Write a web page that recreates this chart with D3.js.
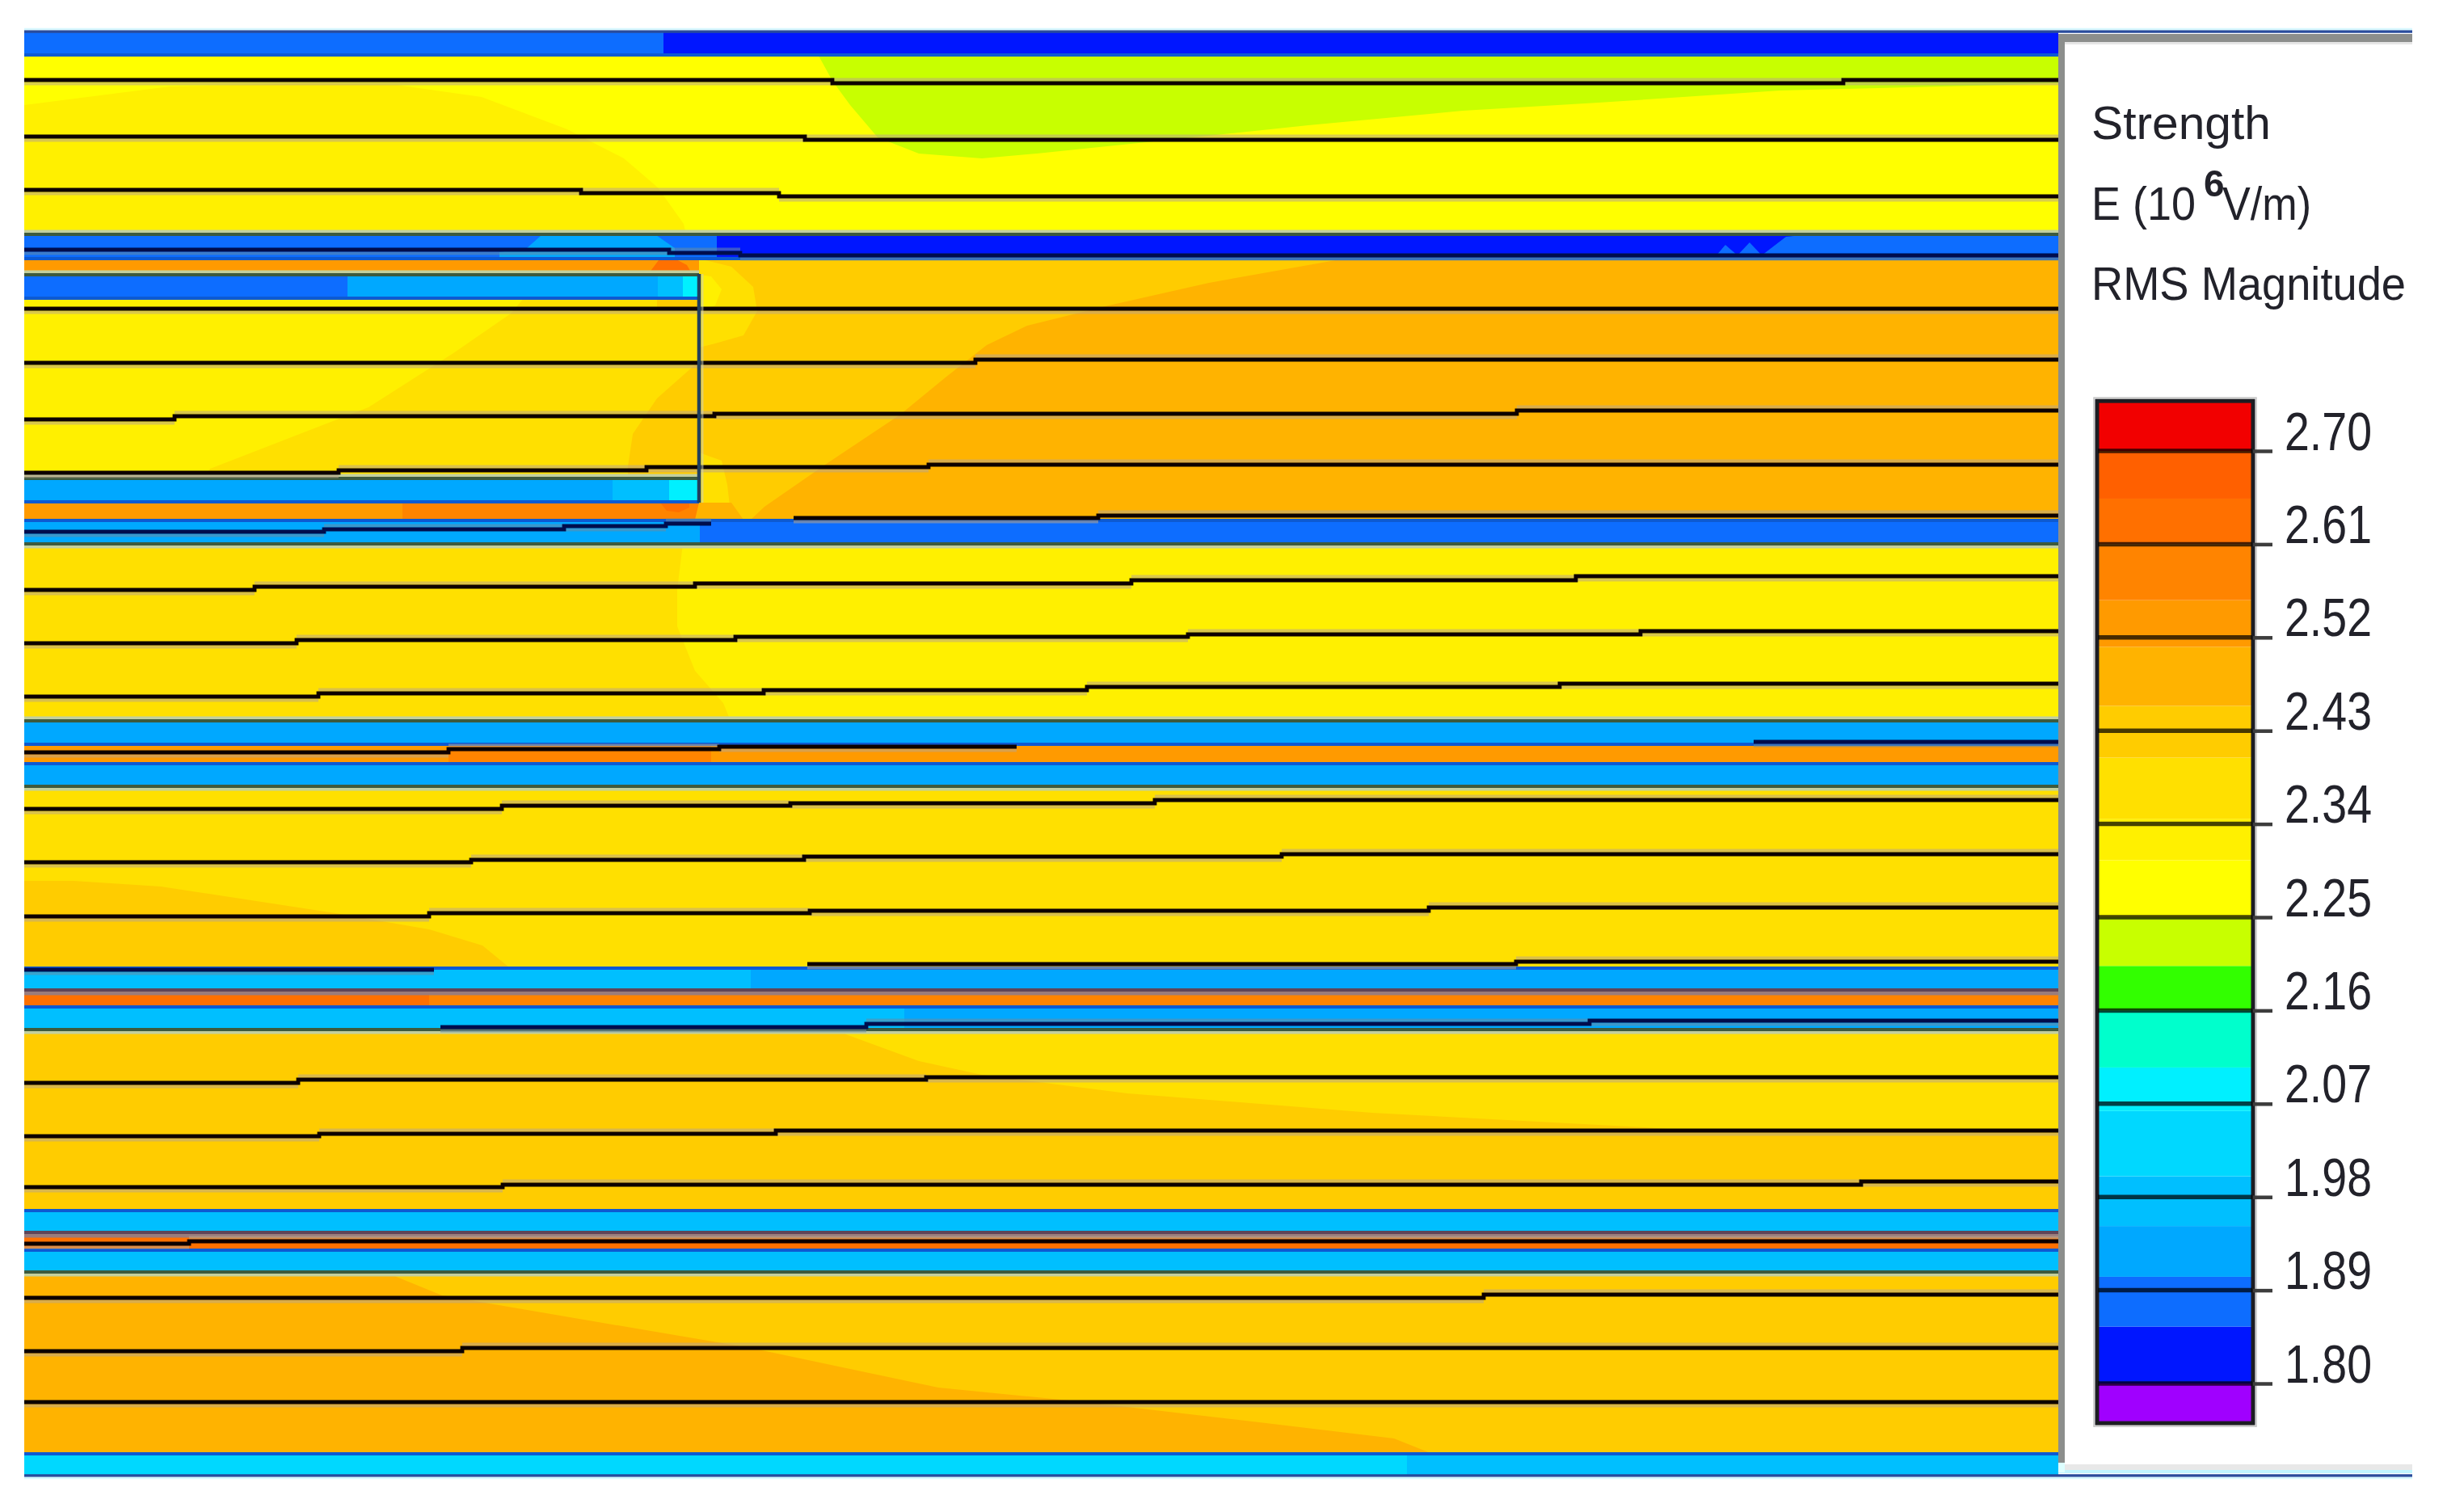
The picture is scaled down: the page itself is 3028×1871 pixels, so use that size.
<!DOCTYPE html>
<html><head><meta charset="utf-8">
<style>
html,body{margin:0;padding:0;background:#fff}
svg{display:block}
text{font-family:"Liberation Sans",Arial,sans-serif;fill:#22232c}
</style>
<script src="https://cdn.jsdelivr.net/npm/d3@7/dist/d3.min.js"></script>
</head><body>
<svg id="c" width="3028" height="1871" viewBox="0 0 3028 1871"></svg>
<script>
// ---------- DATA (cross-section model units; E in 10^6 V/m) ----------
const legendTitle = ["Strength", "E (10", "6", "V/m)", "RMS Magnitude"];
const legendTicks = [2.70, 2.61, 2.52, 2.43, 2.34, 2.25, 2.16, 2.07, 1.98, 1.89, 1.80];
const fieldStops  = [1.80, 1.855, 1.903, 1.952, 2.00, 2.063, 2.105, 2.16, 2.203, 2.25, 2.305, 2.345, 2.404, 2.454, 2.511, 2.556, 2.61, 2.654, 2.70];
const fieldColors = ["#a000ff", "#0018ff", "#0a6dff", "#00a8ff", "#00bfff", "#00d8ff", "#00f0ff", "#00ffcc", "#33ff00", "#c8ff00", "#ffff00", "#fff000", "#ffe000", "#ffcc00", "#ffb300", "#ff9a00", "#ff8400", "#ff7000", "#ff6000", "#f20000"];
const legendExtent = [1.7625, 2.749];

// x0, x1, y0, y1, E
const fieldBands = [
  [30, 2547, 39, 69, 1.88], [821, 2547, 39, 69, 1.82],
  [30, 2547, 69, 290, 2.28],
  [30, 2547, 290, 320, 1.88], [887, 2547, 290, 320, 1.82],
  [865, 2547, 320, 643, 2.48],
  [30, 865, 320, 342, 2.53],
  [30, 865, 342, 368, 1.88], [430, 865, 342, 368, 1.93], [814, 865, 342, 368, 1.98], [845, 865, 342, 368, 2.08],
  [30, 865, 368, 594, 2.32],
  [30, 865, 594, 622, 1.93], [758, 865, 594, 622, 1.98], [828, 865, 594, 622, 2.08],
  [30, 865, 622, 643, 2.53], [498, 865, 622, 643, 2.58],
  [30, 2547, 643, 673, 1.88], [30, 866, 643, 673, 1.93],
  [30, 2547, 673, 893, 2.32],
  [30, 2547, 893, 922, 1.93],
  [30, 2547, 922, 945, 2.53], [555, 880, 922, 945, 2.58],
  [30, 2547, 945, 973, 1.93],
  [30, 2547, 973, 1197, 2.37],
  [30, 2547, 1197, 1225, 1.93], [30, 929, 1197, 1225, 1.98],
  [30, 2547, 1225, 1245, 2.58], [30, 531, 1225, 1245, 2.62],
  [30, 2547, 1245, 1274, 1.93], [30, 1119, 1245, 1274, 1.98],
  [30, 2547, 1274, 1497, 2.43],
  [30, 2547, 1497, 1525, 1.98],
  [30, 2547, 1525, 1547, 2.62],
  [30, 2547, 1547, 1574, 1.98],
  [30, 2547, 1574, 1798, 2.43],
  [30, 2547, 1798, 1826, 1.98], [30, 1741, 1798, 1826, 2.03]
];

// contour regions: E value, outline points
const contourE = [2.32, 2.22, 1.93, 1.88, 2.43, 2.37, 2.32, 2.37, 2.37, 2.43, 2.43, 2.62, 2.62, 2.48, 2.37, 2.43, 2.37, 2.48];
const contourOutlines = [
  [[30,130],[210,107],[386,103],[491,105],[596,120],[702,160],[772,196],[814,232],[846,277],[849,290],[30,290]],
  [[1013,69],[1030,100],[1052,130],[1086,170],[1137,190],[1215,196],[1283,190],[1428,175],[1619,155],[1810,137],[1978,127],[2203,112],[2483,105],[2547,103],[2547,69]],
  [[670,291],[812,291],[835,307],[835,320],[618,320],[618,312],[652,307]],
  [[2124,316],[2135,303],[2150,316],[2165,300],[2180,316],[2210,293],[2240,290],[2547,290],[2547,316]],
  [[865,320],[1664,320],[1496,350],[1372,378],[1271,403],[1221,427],[1170,467],[1114,513],[1024,573],[946,627],[929,643],[865,643]],
  [[865,320],[905,330],[932,355],[937,385],[920,415],[885,425],[865,430]],
  [[865,340],[880,342],[893,358],[885,378],[865,385]],
  [[865,560],[893,570],[900,600],[905,643],[865,643]],
  [[649,368],[632,388],[561,437],[456,504],[260,580],[250,594],[865,594],[865,368]],
  [[865,447],[813,493],[783,537],[777,577],[777,594],[865,594]],
  [[813,368],[865,368],[865,382],[813,382]],
  [[800,342],[815,322],[835,320],[850,328],[858,342]],
  [[817,622],[853,622],[853,628],[840,634],[825,632]],
  [[865,622],[860,643],[920,643],[905,622]],
  [[30,673],[845,673],[838,730],[838,775],[860,830],[895,870],[904,892],[30,892]],
  [[30,1090],[91,1090],[199,1097],[415,1130],[531,1150],[597,1170],[630,1197],[30,1197]],
  [[1036,1276],[1137,1313],[1215,1330],[1395,1353],[1698,1377],[2035,1395],[2120,1401],[2547,1401],[2547,1276]],
  [[30,1576],[481,1576],[547,1603],[746,1637],[929,1668],[1161,1717],[1343,1735],[1575,1762],[1725,1780],[1770,1798],[30,1798]]
];

// conductor / strand lines, stepped: [x, y] at start of each step, final point closes it
const layerLines = [
  [[30,99],[1030,103],[2281,99],[2547,99]],
  [[30,169],[996,173],[2547,173]],
  [[30,235],[719,239],[964,243],[2547,243]],
  [[30,382],[2547,382]],
  [[30,449],[1207,445],[2547,445]],
  [[30,519],[216,515],[884,512],[1877,508],[2547,508]],
  [[30,585],[419,582],[800,578],[1149,575],[2547,575]],
  [[982,641],[1359,638],[2547,638]],
  [[30,730],[315,726],[860,722],[1400,718],[1950,713],[2547,713]],
  [[30,796],[367,792],[910,788],[1470,785],[2030,781],[2547,781]],
  [[30,862],[394,858],[945,854],[1345,850],[1930,846],[2547,846]],
  [[30,931],[555,927],[890,924],[1258,924]],
  [[30,1001],[621,997],[978,994],[1429,990],[2547,990]],
  [[30,1067],[583,1064],[995,1060],[1586,1057],[2547,1057]],
  [[30,1134],[531,1130],[1002,1127],[1768,1123],[2547,1123]],
  [[999,1193],[1876,1190],[2547,1190]],
  [[30,1340],[369,1336],[1146,1333],[2547,1333]],
  [[30,1406],[395,1403],[960,1399],[2547,1399]],
  [[30,1469],[622,1466],[2303,1462],[2547,1462]],
  [[30,1539],[234,1536],[2547,1536]],
  [[30,1606],[1836,1602],[2547,1602]],
  [[30,1672],[572,1668],[2547,1668]],
  [[30,1735],[2547,1735]]
];
const bandLines = [
  [[30,309],[828,313],[916,316],[2547,316]],
  [[30,658],[401,655],[698,651],[824,648],[880,648]],
  [[2170,918],[2547,918]],
  [[30,1200],[537,1200]],
  [[545,1271],[1072,1267],[1967,1263],[2547,1263]]
];
// interface lines: y, x0, x1
const blueEdges  = [[68,30,2547],[320,30,2547],[369,30,865],[621,30,865],[644,30,2547],[921,30,2547],[945,30,2547],[1198,30,2547],[1246,30,2547],[1498,30,2547],[1547,30,2547],[1799,30,2547]];
const greenEdges = [[290,30,2547,-1],[592,30,865,-1],[340,30,865,-1],[673,30,2547,1],[892,30,2547,-1],[973,30,2547,1],[1274,30,2547,1],[1574,30,2547,1]];
const mauveEdges = [[1225,30,2547],[1525,30,2547]];
const outerEdges = [[39,30,2985],[1826,30,2985]];

// ---------- LAYOUT ----------
const root = d3.select("#c");
const defs = root.append("defs");
defs.append("filter").attr("id","soft").attr("filterUnits","userSpaceOnUse")
  .attr("x",0).attr("y",0).attr("width",3028).attr("height",1871)
  .append("feGaussianBlur").attr("stdDeviation",0.6);
const svg = root.append("g").attr("filter","url(#soft)");

const plot = {left:30, right:2547, top:39, bottom:1828};
const x = d3.scaleLinear().domain([30,2547]).range([plot.left, plot.right]);
const y = d3.scaleLinear().domain([39,1828]).range([plot.top, plot.bottom]);
const colorOf = d3.scaleThreshold().domain(fieldStops).range(fieldColors);
const lineGen = d3.line().x(d=>x(d[0])).y(d=>y(d[1]));
const stepGen = d3.line().x(d=>x(d[0])).y(d=>y(d[1])).curve(d3.curveStepAfter);

// field bands
svg.append("g").selectAll("rect").data(fieldBands).join("rect")
  .attr("x",d=>x(d[0])).attr("width",d=>x(d[1])-x(d[0]))
  .attr("y",d=>y(d[2])).attr("height",d=>y(d[3])-y(d[2]))
  .attr("fill",d=>colorOf(d[4]));

// contours
svg.append("g").selectAll("path").data(contourOutlines).join("path")
  .attr("d",d=>lineGen(d)+"Z").attr("fill",(d,i)=>colorOf(contourE[i]));

// interfaces
function edges(data, color, w, off){
  svg.append("g").selectAll("line").data(data).join("line")
    .attr("x1",d=>x(d[1])).attr("x2",d=>x(d[2]))
    .attr("y1",d=>y(d[0])+(off?off*(d[3]||1):0)).attr("y2",d=>y(d[0])+(off?off*(d[3]||1):0))
    .attr("stroke",color).attr("stroke-width",w);
}
edges(blueEdges,"#0a5ad2",4);
edges(greenEdges,"#c2cf9e",4,3.5);
edges(greenEdges,"#3e5a3c",4);
edges(mauveEdges,"#9a7c7c",5,4);
edges(mauveEdges,"#5e4458",4);
edges(outerEdges,"#2a4c9c",3.5);
edges(outerEdges.map(d=>[d[0]+(d[0]<100?-3:3),d[1],d[2]]),"#d8f8ff",2.5);

// strand lines with the pale ringing next to each step
function strands(data, lineColor, haloColor){
  const g = svg.append("g");
  data.forEach(pts=>{
    d3.pairs(pts).forEach((p,i)=>{
      const off = i%2 ? -4.5 : 4.5;
      g.append("line").attr("x1",x(p[0][0])).attr("x2",x(p[1][0]))
        .attr("y1",y(p[0][1])+off).attr("y2",y(p[0][1])+off)
        .attr("stroke",haloColor).attr("stroke-width",4).attr("stroke-opacity",.55);
    });
  });
  g.selectAll("path").data(data).join("path")
    .attr("d",stepGen).attr("fill","none").attr("stroke",lineColor).attr("stroke-width",4.8);
}
strands(layerLines,"#080200","#b9a58a");
strands(bandLines,"#00104e","#6a8aa0");

// box right edge
const boxEdge = [[865,339],[865,622]];
svg.append("path").datum(boxEdge.map(d=>[d[0]+4,d[1]])).attr("d",lineGen).attr("stroke","#cdd3bd").attr("stroke-opacity",.55).attr("stroke-width",3).attr("fill","none");
svg.append("path").datum(boxEdge).attr("d",lineGen).attr("stroke","#243f5c").attr("stroke-width",4.5).attr("fill","none");

// ---------- LEGEND PANEL ----------
svg.append("rect").attr("x",2547).attr("y",42).attr("width",438).attr("height",10).attr("fill","#8c8e8c");
svg.append("rect").attr("x",2547).attr("y",42).attr("width",8).attr("height",1768).attr("fill","#8c8e8c");
svg.append("rect").attr("x",2555).attr("y",52).attr("width",430).attr("height",3).attr("fill","#e6e6e6");
svg.append("rect").attr("x",2555).attr("y",1812).attr("width",430).attr("height",7).attr("fill","#e8e8e8");
svg.append("rect").attr("x",2547).attr("y",1819).attr("width",438).attr("height",4).attr("fill","#bff4ff");
svg.append("rect").attr("x",2547).attr("y",1810).attr("width",8).attr("height",12).attr("fill","#dff");

const v = d3.scaleLinear().domain([1.80,2.70]).range([1712,558]);
const legendEdges = [legendExtent[0], ...fieldStops, legendExtent[1]];
const legendX0 = 2596, legendX1 = 2787;
svg.append("g").selectAll("rect").data(d3.pairs(legendEdges)).join("rect")
  .attr("x",legendX0).attr("width",legendX1-legendX0)
  .attr("y",d=>v(d[1])).attr("height",d=>v(d[0])-v(d[1]))
  .attr("fill",d=>colorOf((d[0]+d[1])/2));

svg.append("rect").attr("x",legendX0-1).attr("y",v(legendExtent[1])+1).attr("width",legendX1-legendX0+2).attr("height",v(legendExtent[0])-v(legendExtent[1]))
  .attr("fill","none").attr("stroke","#1c1c22").attr("stroke-width",5);
svg.append("rect").attr("x",legendX0-5).attr("y",v(legendExtent[1])-3).attr("width",legendX1-legendX0+10).attr("height",v(legendExtent[0])-v(legendExtent[1])+8)
  .attr("fill","none").attr("stroke","#888").attr("stroke-opacity",.5).attr("stroke-width",1.5);

// bar cross-lines and ticks
svg.append("g").selectAll("line").data(legendTicks).join("line")
  .attr("x1",legendX0).attr("x2",legendX1).attr("y1",d=>v(d)).attr("y2",d=>v(d))
  .attr("stroke","#000").attr("stroke-opacity",.72).attr("stroke-width",5.5);

const axis = d3.axisRight(v).tickValues(legendTicks).tickFormat(d3.format(".2f")).tickSize(24).tickPadding(15);
const axisG = svg.append("g").attr("transform",`translate(${legendX1+1},0)`).call(axis);
axisG.select(".domain").remove();
axisG.selectAll(".tick line").attr("stroke","#3c3c3c").attr("stroke-width",4.5);
axisG.selectAll(".tick text")
  .attr("dy",null).attr("y",-2).attr("dominant-baseline","auto")
  .attr("font-size",66).attr("font-family","Liberation Sans")
  .attr("textLength",108).attr("lengthAdjust","spacingAndGlyphs")
  .attr("fill","#2a2a2e");

// title lines
const tx = 2588;
svg.append("text").attr("x",tx).attr("y",172).attr("font-size",58).attr("textLength",222).attr("lengthAdjust","spacingAndGlyphs").text(legendTitle[0]);
svg.append("text").attr("x",tx).attr("y",272).attr("font-size",58).attr("textLength",129).attr("lengthAdjust","spacingAndGlyphs").text(legendTitle[1]);
svg.append("text").attr("x",2727).attr("y",243).attr("font-size",46).attr("font-weight","bold").text(legendTitle[2]);
svg.append("text").attr("x",2750).attr("y",272).attr("font-size",58).attr("textLength",110).attr("lengthAdjust","spacingAndGlyphs").text(legendTitle[3]);
svg.append("text").attr("x",tx).attr("y",371).attr("font-size",58).attr("textLength",389).attr("lengthAdjust","spacingAndGlyphs").text(legendTitle[4]);
</script>
</body></html>
